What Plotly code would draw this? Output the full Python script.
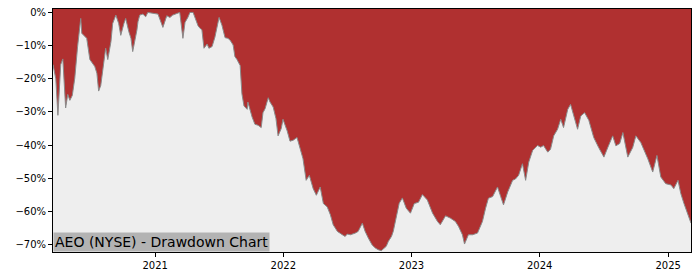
import plotly.graph_objects as go

dates = [
    "2020-03-16", "2020-03-24", "2020-03-30", "2020-04-07", "2020-04-13", "2020-04-21", "2020-04-27",
    "2020-05-03", "2020-05-10", "2020-05-17", "2020-05-25", "2020-06-03", "2020-06-06", "2020-06-14",
    "2020-06-20", "2020-06-29", "2020-07-07", "2020-07-13", "2020-07-19", "2020-07-24", "2020-07-30",
    "2020-08-05", "2020-08-13", "2020-08-19", "2020-08-28", "2020-09-02", "2020-09-11", "2020-09-19",
    "2020-09-25", "2020-10-04", "2020-10-09", "2020-10-18", "2020-10-24", "2020-10-29", "2020-11-04",
    "2020-11-10", "2020-11-13", "2020-11-18", "2020-11-27", "2020-12-05", "2020-12-11", "2020-12-23",
    "2020-12-31", "2021-01-09", "2021-01-23", "2021-02-03", "2021-02-12", "2021-02-20", "2021-03-04",
    "2021-03-12", "2021-03-21", "2021-03-27", "2021-04-04", "2021-04-10", "2021-04-19", "2021-04-27",
    "2021-05-03", "2021-05-09", "2021-05-14", "2021-05-20", "2021-05-29", "2021-06-03", "2021-06-12",
    "2021-06-20", "2021-06-26", "2021-07-02", "2021-07-10", "2021-07-19", "2021-07-27", "2021-08-02",
    "2021-08-11", "2021-08-16", "2021-08-22", "2021-08-31", "2021-09-05", "2021-09-11", "2021-09-20",
    "2021-09-22", "2021-10-04", "2021-10-12", "2021-10-21", "2021-10-30", "2021-11-04", "2021-11-10",
    "2021-11-19", "2021-11-24", "2021-12-03", "2021-12-11", "2021-12-17", "2021-12-26", "2021-12-31",
    "2022-01-12", "2022-01-20", "2022-01-29", "2022-02-09", "2022-02-18", "2022-02-26", "2022-03-07",
    "2022-03-16", "2022-03-27", "2022-04-05", "2022-04-16", "2022-04-25", "2022-05-06", "2022-05-15",
    "2022-05-23", "2022-06-04", "2022-06-18", "2022-06-26", "2022-07-02", "2022-07-11", "2022-07-25",
    "2022-08-02", "2022-08-14", "2022-08-22", "2022-08-31", "2022-09-11", "2022-09-20", "2022-09-28",
    "2022-10-07", "2022-10-13", "2022-10-21", "2022-10-27", "2022-11-05", "2022-11-10", "2022-11-22",
    "2022-11-27", "2022-12-06", "2022-12-17", "2022-12-29", "2023-01-09", "2023-01-21", "2023-02-01",
    "2023-02-15", "2023-03-02", "2023-03-16", "2023-03-24", "2023-04-08", "2023-04-22", "2023-05-06",
    "2023-05-15", "2023-05-26", "2023-06-01", "2023-06-12", "2023-06-24", "2023-07-08", "2023-07-22",
    "2023-07-31", "2023-08-08", "2023-08-20", "2023-09-03", "2023-09-12", "2023-09-20", "2023-10-02",
    "2023-10-16", "2023-10-24", "2023-11-02", "2023-11-13", "2023-11-22", "2023-12-01", "2023-12-12",
    "2023-12-26", "2024-01-04", "2024-01-12", "2024-01-24", "2024-02-01", "2024-02-10", "2024-02-21",
    "2024-03-01", "2024-03-09", "2024-03-21", "2024-03-29", "2024-04-07", "2024-04-18", "2024-04-27",
    "2024-05-08", "2024-05-20", "2024-06-03", "2024-06-17", "2024-07-02", "2024-07-13", "2024-07-27",
    "2024-08-05", "2024-08-16", "2024-08-25", "2024-09-08", "2024-09-22", "2024-10-01", "2024-10-15",
    "2024-10-24", "2024-11-04", "2024-11-18", "2024-11-30", "2024-12-11", "2024-12-25", "2025-01-09",
    "2025-01-17", "2025-01-29", "2025-02-06", "2025-02-15", "2025-02-26", "2025-03-07",
]

drawdown_pct = [
    -15.7, -20.0, -31.0, -15.7, -14.0, -28.8, -24.7,
    -26.5, -25.0, -19.8, -10.3, -1.8, -6.3, -7.0,
    -7.8, -14.2, -15.5, -16.3, -18.3, -23.7, -22.0,
    -16.8, -10.8, -14.2, -8.8, -3.3, -0.8, -3.3,
    -6.9, -3.3, -1.8, -5.8, -7.8, -11.8, -8.8,
    -5.3, -2.8, -0.8, -0.5, -1.3, 0.0, -0.3,
    -0.3, -0.5, -4.5, -1.0, -1.5, -0.8, -0.3,
    0.0, -7.8, -3.0, -1.5, 0.0, 0.0, -2.5,
    -4.0, -4.8, -5.2, -10.8, -9.5, -10.8, -10.3,
    -7.5, -4.8, -1.5, -3.8, -7.6, -7.8, -8.3,
    -9.8, -13.3, -14.2, -16.0, -24.5, -28.2, -29.2,
    -27.0, -31.5, -33.7, -34.0, -34.7, -30.2, -29.0,
    -25.7, -27.0, -28.5, -32.0, -37.2, -35.0, -32.2,
    -35.7, -38.8, -38.5, -37.7, -41.1, -44.1, -50.6,
    -49.1, -53.1, -55.1, -52.6, -57.6, -58.6, -61.0,
    -64.0, -66.0, -67.0, -67.5, -66.8, -67.0, -66.5,
    -66.0, -63.5, -66.0, -68.0, -70.1, -71.0, -71.5,
    -71.8, -71.3, -70.5, -69.0, -67.5, -66.0, -60.0,
    -57.5, -55.9, -59.0, -60.5, -57.6, -57.2, -54.9,
    -56.5, -60.5, -63.0, -64.0, -61.3, -62.0, -63.0,
    -64.5, -67.0, -69.8, -67.0, -67.0, -66.5, -63.0,
    -59.0, -56.0, -55.5, -52.6, -55.5, -58.0, -54.1,
    -50.6, -50.2, -49.1, -45.6, -50.6, -45.1, -41.6,
    -40.1, -40.6, -40.1, -42.1, -41.2, -37.2, -35.2,
    -32.2, -34.7, -29.2, -27.7, -31.0, -35.2, -31.2,
    -30.2, -32.5, -37.7, -40.7, -43.6, -40.7, -37.2,
    -40.2, -39.5, -36.2, -43.6, -40.7, -37.2, -39.2,
    -41.2, -44.1, -48.1, -43.1, -49.6, -51.6, -52.0,
    -53.1, -50.6, -54.6, -57.6, -61.0, -63.5,
]

y_ticks = [0, -0.1, -0.2, -0.3, -0.4, -0.5, -0.6, -0.7]
x_ticks = ["2021-01-01", "2022-01-01", "2023-01-01", "2024-01-01", "2025-01-01"]
x_tick_labels = ["2021", "2022", "2023", "2024", "2025"]
label_text = "AEO (NYSE) - Drawdown Chart"

y_min, y_max = -0.722, 0.0104
dd = [v / 100 for v in drawdown_pct]

fig = go.Figure()
# baseline below the axis bottom so the grey fill covers the area under the drawdown line
fig.add_trace(go.Scatter(x=dates, y=[y_min - 0.05] * len(dates), mode="lines",
                         line=dict(width=0), hoverinfo="skip", showlegend=False))
fig.add_trace(go.Scatter(x=dates, y=dd, mode="lines", fill="tonexty",
                         fillcolor="#eeeeee", line=dict(color="#8a8a8a", width=1),
                         showlegend=False))

fig.update_layout(
    width=700, height=280,
    margin=dict(l=53, r=9, t=7, b=28),
    paper_bgcolor="white",
    plot_bgcolor="#b03030",
    font=dict(family="DejaVu Sans", size=10, color="#000000"),
    xaxis=dict(range=["2020-03-16", "2025-03-07"], tickvals=x_ticks, ticktext=x_tick_labels,
               showgrid=False, zeroline=False, showline=True, linecolor="black", linewidth=1,
               mirror=True, ticks="outside", ticklen=4, tickcolor="black",
               tickfont=dict(size=10)),
    yaxis=dict(range=[y_min, y_max], tickvals=y_ticks, tickformat=".0%",
               showgrid=False, zeroline=False, showline=True, linecolor="black", linewidth=1,
               mirror=True, ticks="outside", ticklen=4, tickcolor="black",
               tickfont=dict(size=10)),
    annotations=[dict(text=label_text, xref="paper", yref="paper", x=0, y=0,
                      xanchor="left", yanchor="bottom", showarrow=False,
                      bgcolor="#b3b3b3", borderpad=1,
                      font=dict(family="DejaVu Sans", size=14, color="#000000"))],
)

fig.write_html("out.html")
